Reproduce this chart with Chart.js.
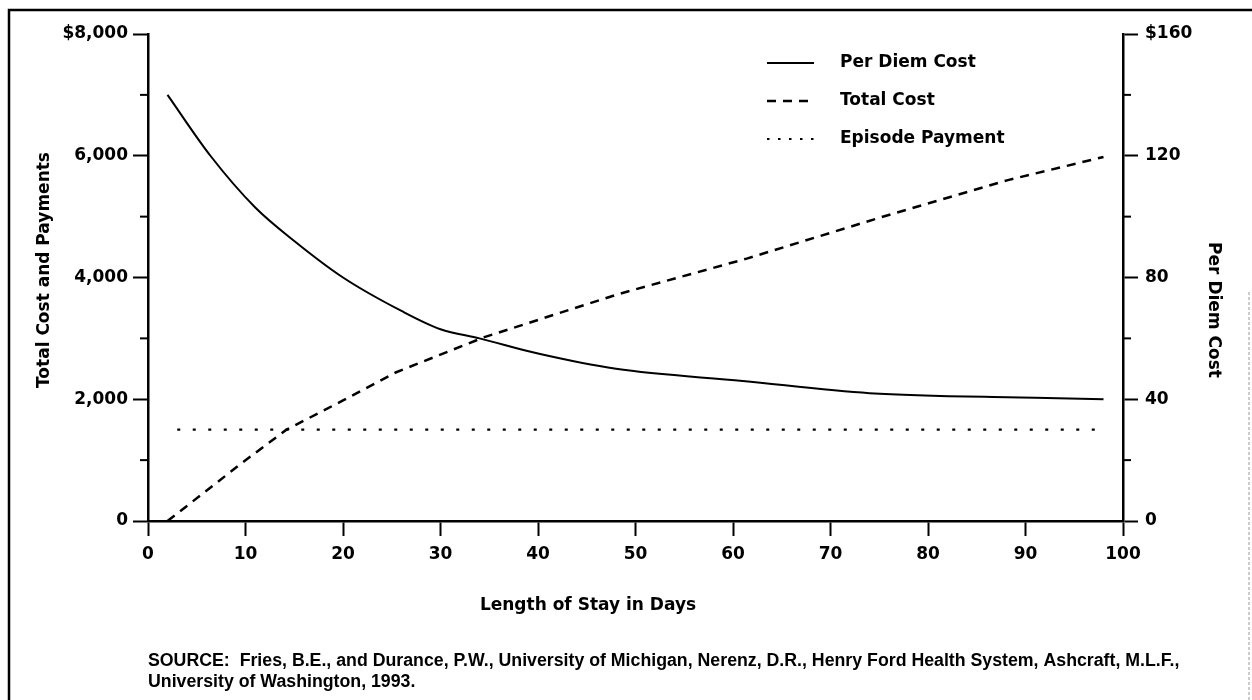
<!DOCTYPE html>
<html>
<head>
<meta charset="utf-8">
<script src="https://cdn.jsdelivr.net/npm/chart.js@4"></script>
<style>
body{margin:0;background:#fff;}
canvas{display:block;}
</style>
</head>
<body>
<canvas id="chart" width="1252" height="700"></canvas>
<script>

// values
const perDiemDays = [2, 6.4, 11, 15, 20, 26, 30, 34, 40, 48, 61, 74, 91, 98];
const perDiemCost = [140, 120, 103, 92, 80, 69, 63, 60, 55, 50, 46, 42, 40.5, 40];

const totalDays = [2, 5.7, 9.6, 14.2, 20, 25.4, 34.5, 48.3, 61.4, 75.2, 88.2, 98];
const totalCost = [0, 460, 950, 1500, 1980, 2440, 3020, 3730, 4310, 4990, 5600, 5980];

const episodeDays = [3, 98];
const episodePayment = [1500, 1500];

const seriesNames = ["Per Diem Cost", "Total Cost", "Episode Payment"];

const leftTicks = [0, 2000, 4000, 6000, 8000];
const leftTickLabels = ["0", "2,000", "4,000", "6,000", "$8,000"];
const leftMinor = [1000, 3000, 5000, 7000];

const rightTicks = [0, 40, 80, 120, 160];
const rightTickLabels = ["0", "40", "80", "120", "$160"];
const rightMinor = [20, 60, 100, 140];

const xTitle = "Length of Stay in Days";
const leftTitle = "Total Cost and Payments";
const rightTitle = "Per Diem Cost";
const sourceLines = [
"SOURCE:  Fries, B.E., and Durance, P.W., University of Michigan, Nerenz, D.R., Henry Ford Health System, Ashcraft, M.L.F.,",
"University of Washington, 1993."
];

function pts(xs, ys){
return xs.map((x,i)=>({x:x, y:ys[i]}));
}

const FONT = "DejaVu Sans";

/* frame, minor ticks, titles, legend, source */
const decor = {
id:"decor",
afterDraw(chart){
const ctx = chart.ctx;
const y = chart.scales.y;
const y1 = chart.scales.y1;
ctx.save();

// frame of the scanned figure
ctx.strokeStyle = "#000";
ctx.lineWidth = 2.5;
ctx.beginPath();
ctx.moveTo(9, 700);
ctx.lineTo(9, 10);
ctx.lineTo(1252, 10);
ctx.stroke();
ctx.strokeStyle = "#999";
ctx.lineWidth = 1;
ctx.setLineDash([3,2]);
ctx.beginPath();
ctx.moveTo(1249, 292);
ctx.lineTo(1249, 700);
ctx.stroke();
ctx.setLineDash([]);

// minor ticks
ctx.strokeStyle = "#000";
ctx.lineWidth = 2;
leftMinor.forEach(v=>{
const p = y.getPixelForValue(v);
ctx.beginPath(); ctx.moveTo(y.right-8, p); ctx.lineTo(y.right, p); ctx.stroke();
});
rightMinor.forEach(v=>{
const p = y1.getPixelForValue(v);
ctx.beginPath(); ctx.moveTo(y1.left, p); ctx.lineTo(y1.left+8, p); ctx.stroke();
});

// axis titles
ctx.fillStyle = "#000";
ctx.font = "bold 17px '" + FONT + "'";
ctx.textAlign = "center";
ctx.textBaseline = "middle";
ctx.fillText(xTitle, 588, 606);

ctx.save();
ctx.translate(45, 270);
ctx.rotate(-Math.PI/2);
ctx.fillText(leftTitle, 0, 0);
ctx.restore();

ctx.save();
ctx.translate(1213, 310);
ctx.rotate(Math.PI/2);
ctx.fillText(rightTitle, 0, 0);
ctx.restore();

// legend
const rows = [63, 101, 139];
ctx.textAlign = "left";
chart.data.datasets.forEach((ds,i)=>{
ctx.strokeStyle = ds.borderColor;
ctx.lineWidth = ds.borderWidth;
ctx.setLineDash(i===2 ? [2.5,8.5] : (ds.borderDash || []));
ctx.beginPath();
ctx.moveTo(767, rows[i]);
ctx.lineTo(814, rows[i]);
ctx.stroke();
ctx.setLineDash([]);
ctx.fillText(ds.label, 840, rows[i]);
});

// source note
ctx.font = "bold 16px 'Liberation Sans'";
const w = ctx.measureText(sourceLines[0]).width;
const size = 16 * 1032 / w;
ctx.font = "bold " + size.toFixed(2) + "px 'Liberation Sans'";
ctx.fillText(sourceLines[0], 148, 661);
ctx.fillText(sourceLines[1], 148, 682);

ctx.restore();
}
};

const tickFont = {family:FONT, size:17, weight:"bold"};

new Chart(document.getElementById("chart"),{
type:"line",
data:{
datasets:[
{
label:seriesNames[0],
data:pts(perDiemDays, perDiemCost),
yAxisID:"y1",
borderColor:"#000",
borderWidth:2,
pointRadius:0,
cubicInterpolationMode:"monotone"
},
{
label:seriesNames[1],
data:pts(totalDays, totalCost),
yAxisID:"y",
borderColor:"#000",
borderWidth:2.5,
borderDash:[9,7],
pointRadius:0,
tension:0
},
{
label:seriesNames[2],
data:pts(episodeDays, episodePayment),
yAxisID:"y",
borderColor:"#000",
borderWidth:2.2,
borderDash:[3,12.5],
pointRadius:0,
tension:0
}
]
},
options:{
responsive:false,
animation:false,
layout:{padding:{top:34, left:0, right:0, bottom:0}},
plugins:{legend:{display:false}, tooltip:{enabled:false}},
scales:{
x:{
type:"linear",
min:0, max:100,
ticks:{stepSize:10, color:"#000", font:tickFont, padding:8, maxRotation:0},
grid:{drawOnChartArea:false, drawTicks:true, tickLength:15, tickColor:"#000", tickWidth:2},
border:{display:true, color:"#000", width:2.5},
afterFit(s){ s.height = 700-521; }
},
y:{
position:"left",
min:0, max:8000,
afterBuildTicks(s){ s.ticks = leftTicks.map(v=>({value:v})); },
ticks:{color:"#000", font:tickFont, padding:5,
callback:(v)=>leftTickLabels[leftTicks.indexOf(v)]},
grid:{drawOnChartArea:false, drawTicks:true, tickLength:15, tickColor:"#000", tickWidth:2},
border:{display:true, color:"#000", width:2.5},
afterFit(s){ s.width = 148; }
},
y1:{
position:"right",
min:0, max:160,
afterBuildTicks(s){ s.ticks = rightTicks.map(v=>({value:v})); },
ticks:{color:"#000", font:tickFont, padding:7,
callback:(v)=>rightTickLabels[rightTicks.indexOf(v)]},
grid:{drawOnChartArea:false, drawTicks:true, tickLength:15, tickColor:"#000", tickWidth:2},
border:{display:true, color:"#000", width:2.5},
afterFit(s){ s.width = 1252-1123; }
}
}
},
plugins:[decor]
});

</script>
</body>
</html>
